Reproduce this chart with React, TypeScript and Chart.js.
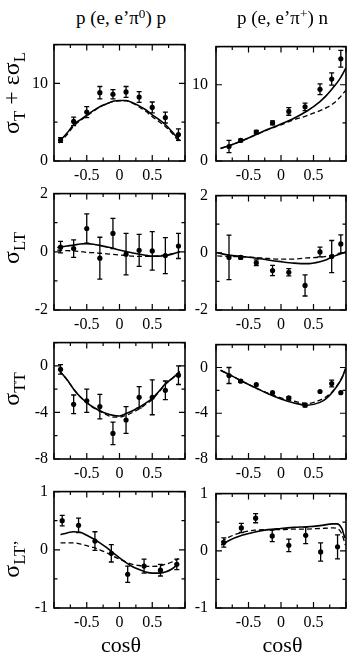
import React, { useEffect, useRef } from "react";
import { Chart, registerables } from "chart.js";
Chart.register(...registerables);

const FONT = '"Liberation Serif", "Times New Roman", serif';

// ---------- x positions (cos theta) ----------
const xPi0 = [-0.9, -0.7, -0.5, -0.3, -0.1, 0.1, 0.3, 0.5, 0.7, 0.9];
const xPi0LTp = [-0.875, -0.625, -0.375, -0.125, 0.125, 0.375, 0.625, 0.875];
const xPiP = [-0.8, -0.62, -0.38, -0.13, 0.12, 0.37, 0.6, 0.78, 0.92];
const xPiPLTp = [-0.88, -0.61, -0.39, -0.135, 0.12, 0.38, 0.61, 0.87];

// ---------- tick labels ----------
const xTickLabels = [-0.5, 0, 0.5];
const yTicksRow1 = [0, 10];
const yTicksRow2 = [-2, 0, 2];
const yTicksRow3 = [-8, -4, 0];
const yTicksRow4 = [-1, 0, 1];

// ---------- Row 1: sigma_T + eps sigma_L ----------
const r1Pi0Val = [2.7, 5.1, 6.3, 8.8, 8.6, 8.9, 8.25, 6.9, 5.6, 3.4];
const r1Pi0Err = [0.3, 0.55, 0.7, 0.8, 0.6, 0.7, 0.7, 0.7, 0.7, 0.75];
const r1Pi0CurveX = [-0.92, -0.8, -0.7, -0.6, -0.5, -0.4, -0.3, -0.2, -0.1, 0, 0.1, 0.2, 0.3, 0.4, 0.5, 0.6, 0.7, 0.8, 0.92];
const r1Pi0Solid = [2.5, 3.6, 4.7, 5.3, 5.9, 6.5, 7.0, 7.35, 7.7, 7.8, 7.8, 7.5, 7.1, 6.6, 5.95, 5.35, 4.7, 3.8, 2.6];
const r1Pi0Dashed = [2.3, 3.4, 4.5, 5.2, 5.8, 6.4, 6.95, 7.35, 7.65, 7.75, 7.75, 7.45, 6.95, 6.4, 5.7, 5.1, 4.45, 3.6, 2.35];

const r1PiPVal = [1.9, 2.7, 3.8, 5.0, 6.5, 7.1, 9.4, 10.75, 13.4];
const r1PiPErr = [0.8, 0.15, 0.2, 0.25, 0.5, 0.5, 0.7, 0.8, 1.1];
const r1PiPCurveX = [-0.93, -0.8, -0.6, -0.4, -0.2, 0, 0.2, 0.4, 0.6, 0.7, 0.8, 0.9, 1.0];
const r1PiPSolid = [1.65, 2.0, 2.65, 3.4, 4.15, 4.85, 5.6, 6.55, 7.8, 8.6, 9.6, 10.7, 12.2];
const r1PiPDashed = [1.65, 2.0, 2.65, 3.4, 4.1, 4.75, 5.4, 5.95, 6.6, 7.0, 7.5, 8.3, 9.3];

// ---------- Row 2: sigma_LT ----------
const r2Pi0Val = [0.16, 0.11, 0.8, -0.22, 0.63, -0.08, 0.05, 0.03, -0.13, 0.2];
const r2Pi0Err = [0.2, 0.3, 0.5, 0.72, 0.52, 0.71, 0.55, 0.66, 0.62, 0.43];
const r2Pi0CurveX = [-0.95, -0.8, -0.7, -0.6, -0.5, -0.4, -0.3, -0.2, -0.1, 0, 0.1, 0.2, 0.3, 0.4, 0.5, 0.6, 0.7, 0.8, 0.92];
const r2Pi0Solid = [0.15, 0.2, 0.23, 0.27, 0.28, 0.26, 0.22, 0.17, 0.12, 0.06, 0.01, -0.04, -0.08, -0.12, -0.15, -0.15, -0.13, -0.08, 0.0];
const r2Pi0Dashed = [0.06, 0.04, 0.03, 0.01, -0.02, -0.03, -0.05, -0.07, -0.09, -0.11, -0.13, -0.15, -0.16, -0.16, -0.16, -0.14, -0.11, -0.07, 0.0];

const r2PiPVal = [-0.16, -0.16, -0.35, -0.62, -0.68, -1.14, 0.03, -0.13, 0.31];
const r2PiPErr = [0.78, 0.05, 0.1, 0.18, 0.13, 0.37, 0.17, 0.56, 0.32];
const r2PiPCurveX = [-0.98, -0.8, -0.6, -0.4, -0.2, 0, 0.2, 0.4, 0.6, 0.7, 0.8, 0.9, 1.0];
const r2PiPSolid = [0.0, -0.08, -0.13, -0.18, -0.25, -0.31, -0.36, -0.38, -0.31, -0.24, -0.13, -0.05, 0.03];
const r2PiPDashed = [-0.11, -0.13, -0.14, -0.16, -0.2, -0.22, -0.22, -0.18, -0.15, -0.12, -0.08, -0.03, 0.03];

// ---------- Row 3: sigma_TT ----------
const r3Pi0Val = [-0.3, -3.3, -3.0, -3.5, -5.8, -4.65, -2.7, -2.7, -2.1, -0.8];
const r3Pi0Err = [0.4, 0.8, 1.0, 1.05, 0.96, 1.15, 0.92, 1.5, 0.8, 0.8];
const r3Pi0CurveX = [-0.92, -0.8, -0.7, -0.6, -0.5, -0.4, -0.3, -0.2, -0.1, 0, 0.1, 0.2, 0.3, 0.4, 0.5, 0.6, 0.7, 0.8, 0.92];
const r3Pi0Solid = [-0.4, -1.2, -2.0, -2.65, -3.15, -3.55, -3.85, -4.1, -4.25, -4.3, -4.1, -3.85, -3.55, -3.2, -2.8, -2.2, -1.55, -1.1, -0.5];
const r3Pi0Dashed = [-0.4, -1.2, -2.0, -2.65, -3.15, -3.6, -3.9, -4.2, -4.4, -4.4, -4.25, -4.0, -3.7, -3.3, -2.9, -2.25, -1.6, -1.1, -0.5];

const r3PiPVal = [-0.7, -1.2, -1.5, -2.2, -2.65, -3.3, -2.1, -1.4, -2.2];
const r3PiPErr = [0.7, 0.1, 0, 0, 0.1, 0.15, 0, 0.3, 0];
const r3PiPCurveX = [-0.93, -0.8, -0.6, -0.4, -0.2, 0, 0.2, 0.4, 0.6, 0.7, 0.8, 0.9, 0.95, 1.0];
const r3PiPSolid = [-0.25, -0.6, -1.2, -1.75, -2.3, -2.75, -3.1, -3.3, -3.05, -2.7, -2.1, -1.3, -0.75, 0.0];
const r3PiPDashed = [-0.25, -0.6, -1.2, -1.75, -2.25, -2.65, -2.95, -3.15, -2.85, -2.55, -2.05, -1.25, -0.75, 0.0];

// ---------- Row 4: sigma_LT' ----------
const r4Pi0Val = [0.5, 0.42, 0.15, -0.06, -0.42, -0.28, -0.35, -0.25];
const r4Pi0Err = [0.09, 0.125, 0.16, 0.15, 0.14, 0.12, 0.1, 0.09];
const r4Pi0CurveX = [-0.9, -0.8, -0.7, -0.6, -0.5, -0.4, -0.3, -0.2, -0.1, 0, 0.1, 0.2, 0.3, 0.4, 0.5, 0.6, 0.7, 0.8, 0.9];
const r4Pi0Solid = [0.26, 0.29, 0.31, 0.3, 0.25, 0.19, 0.12, 0.04, -0.05, -0.14, -0.22, -0.29, -0.34, -0.38, -0.4, -0.4, -0.38, -0.33, -0.24];
const r4Pi0Dashed = [0.12, 0.12, 0.12, 0.1, 0.07, 0.04, 0.0, -0.05, -0.11, -0.16, -0.21, -0.25, -0.27, -0.28, -0.285, -0.28, -0.25, -0.21, -0.15];

const r4PiPVal = [0.145, 0.4, 0.57, 0.26, 0.095, 0.27, -0.02, 0.07];
const r4PiPErr = [0.08, 0.08, 0.08, 0.1, 0.11, 0.145, 0.16, 0.21];
const r4PiPCurveX = [-0.92, -0.8, -0.6, -0.4, -0.2, 0, 0.2, 0.4, 0.6, 0.8, 0.86, 0.9, 0.94, 0.97, 0.99];
const r4PiPSolid = [0.1, 0.18, 0.27, 0.33, 0.37, 0.39, 0.41, 0.42, 0.44, 0.47, 0.47, 0.45, 0.38, 0.27, 0.22];
const r4PiPDashed = [0.16, 0.24, 0.32, 0.36, 0.37, 0.37, 0.38, 0.38, 0.39, 0.4, 0.39, 0.36, 0.28, 0.18, 0.1];

// ---------- layout ----------
const COL_LEFT = [54, 216];
const COL_W = [134, 133];
const ROW_TOP = [41, 190, 339, 488];
const ROW_H = 120;
const AXIS_W = 54;
const PAD_T = 12;
const PAD_R = 2;
const X_AXIS_H = 30;

const yAxes = [
  { min: 0, max: 15, step: 5, labels: yTicksRow1 },
  { min: -2, max: 2, step: 1, labels: yTicksRow2 },
  { min: -8, max: 2, step: 2, labels: yTicksRow3 },
  { min: -1, max: 1, step: 0.5, labels: yTicksRow4 },
];

const panels = [
  { row: 0, col: 0, px: xPi0, py: r1Pi0Val, pe: r1Pi0Err, cx: r1Pi0CurveX, solid: r1Pi0Solid, dashed: r1Pi0Dashed },
  { row: 0, col: 1, px: xPiP, py: r1PiPVal, pe: r1PiPErr, cx: r1PiPCurveX, solid: r1PiPSolid, dashed: r1PiPDashed },
  { row: 1, col: 0, px: xPi0, py: r2Pi0Val, pe: r2Pi0Err, cx: r2Pi0CurveX, solid: r2Pi0Solid, dashed: r2Pi0Dashed },
  { row: 1, col: 1, px: xPiP, py: r2PiPVal, pe: r2PiPErr, cx: r2PiPCurveX, solid: r2PiPSolid, dashed: r2PiPDashed },
  { row: 2, col: 0, px: xPi0, py: r3Pi0Val, pe: r3Pi0Err, cx: r3Pi0CurveX, solid: r3Pi0Solid, dashed: r3Pi0Dashed },
  { row: 2, col: 1, px: xPiP, py: r3PiPVal, pe: r3PiPErr, cx: r3PiPCurveX, solid: r3PiPSolid, dashed: r3PiPDashed },
  { row: 3, col: 0, px: xPi0LTp, py: r4Pi0Val, pe: r4Pi0Err, cx: r4Pi0CurveX, solid: r4Pi0Solid, dashed: r4Pi0Dashed },
  { row: 3, col: 1, px: xPiPLTp, py: r4PiPVal, pe: r4PiPErr, cx: r4PiPCurveX, solid: r4PiPSolid, dashed: r4PiPDashed },
];

const near = (a: number, b: number) => Math.abs(a - b) < 1e-6;

const frameTicks = {
  id: "frameTicks",
  afterDraw(chart: any, _args: any, opts: any) {
    const { ctx, chartArea: a, scales } = chart;
    const xs = scales.x, ys = scales.y;
    ctx.save();
    ctx.strokeStyle = "#000";
    ctx.lineWidth = 1.2;
    ctx.beginPath();
    xs.ticks.forEach((t: any) => {
      const px = xs.getPixelForValue(t.value);
      const len = opts.xMajor.some((m: number) => near(m, t.value)) ? 6 : 3.5;
      ctx.moveTo(px, a.bottom); ctx.lineTo(px, a.bottom - len);
      ctx.moveTo(px, a.top); ctx.lineTo(px, a.top + len);
    });
    ys.ticks.forEach((t: any) => {
      const py = ys.getPixelForValue(t.value);
      const len = opts.yMajor.some((m: number) => near(m, t.value)) ? 6 : 3.5;
      ctx.moveTo(a.left, py); ctx.lineTo(a.left + len, py);
      ctx.moveTo(a.right, py); ctx.lineTo(a.right - len, py);
    });
    ctx.stroke();
    ctx.lineWidth = 1.6;
    ctx.strokeRect(a.left, a.top, a.right - a.left, a.bottom - a.top);
    ctx.restore();
  },
};

const errorBars = {
  id: "errorBars",
  afterDatasetsDraw(chart: any) {
    const { ctx } = chart;
    const xs = chart.scales.x, ys = chart.scales.y;
    chart.data.datasets.forEach((ds: any) => {
      if (!ds.errors) return;
      ctx.save();
      ctx.strokeStyle = "#000";
      ctx.lineWidth = 1.3;
      ctx.beginPath();
      ds.data.forEach((pt: any, i: number) => {
        const e = ds.errors[i];
        if (!e) return;
        const px = xs.getPixelForValue(pt.x);
        const y1 = ys.getPixelForValue(pt.y + e);
        const y2 = ys.getPixelForValue(pt.y - e);
        ctx.moveTo(px, y1); ctx.lineTo(px, y2);
        ctx.moveTo(px - 2.5, y1); ctx.lineTo(px + 2.5, y1);
        ctx.moveTo(px - 2.5, y2); ctx.lineTo(px + 2.5, y2);
      });
      ctx.stroke();
      ctx.restore();
    });
  },
};

function Panel({ p }: { p: any }) {
  const ref = useRef<HTMLCanvasElement>(null);
  const W = COL_W[p.col] + AXIS_W + PAD_R;
  const H = ROW_H + PAD_T + X_AXIS_H;
  useEffect(() => {
    const ax = yAxes[p.row];
    const chart = new Chart(ref.current as HTMLCanvasElement, {
      type: "scatter",
      data: {
        datasets: [
          {
            type: "line",
            data: p.cx.map((x: number, i: number) => ({ x, y: p.solid[i] })),
            borderColor: "#000",
            borderWidth: 1.6,
            pointRadius: 0,
            cubicInterpolationMode: "monotone",
            fill: false,
          },
          {
            type: "line",
            data: p.cx.map((x: number, i: number) => ({ x, y: p.dashed[i] })),
            borderColor: "#000",
            borderWidth: 1.3,
            borderDash: [5, 3],
            pointRadius: 0,
            cubicInterpolationMode: "monotone",
            fill: false,
          },
          {
            type: "scatter",
            data: p.px.map((x: number, i: number) => ({ x, y: p.py[i] })),
            errors: p.pe,
            backgroundColor: "#000",
            borderColor: "#000",
            borderWidth: 0,
            pointRadius: 2.6,
          } as any,
        ],
      },
      options: {
        animation: false,
        responsive: false,
        devicePixelRatio: 1,
        layout: { padding: { top: PAD_T, right: PAD_R, left: 0, bottom: 0 } },
        plugins: {
          legend: { display: false },
          tooltip: { enabled: false },
          frameTicks: { xMajor: [-1, -0.5, 0, 0.5, 1], yMajor: ax.labels },
        } as any,
        scales: {
          x: {
            type: "linear",
            min: -1,
            max: 1,
            grid: { display: false, drawTicks: false },
            border: { display: false },
            ticks: {
              stepSize: 0.25,
              autoSkip: false,
              maxRotation: 0,
              padding: 5,
              color: "#000",
              font: { family: FONT, size: 16 },
              callback: (v: any) => {
                const m = xTickLabels.find((t) => near(t, Number(v)));
                return m === undefined ? "" : String(m);
              },
            },
            afterFit: (s: any) => { s.height = X_AXIS_H; },
          },
          y: {
            type: "linear",
            min: ax.min,
            max: ax.max,
            grid: { display: false, drawTicks: false },
            border: { display: false },
            ticks: {
              stepSize: ax.step,
              autoSkip: false,
              padding: p.col === 0 ? 6 : 8,
              color: "#000",
              font: { family: FONT, size: 16 },
              callback: (v: any) => {
                const m = ax.labels.find((t) => near(t, Number(v)));
                return m === undefined ? "" : String(m);
              },
            },
            afterFit: (s: any) => { s.width = AXIS_W; },
          },
        },
      },
      plugins: [frameTicks, errorBars],
    } as any);
    return () => chart.destroy();
  }, []);
  return (
    <canvas
      ref={ref}
      width={W}
      height={H}
      style={{
        position: "absolute",
        left: COL_LEFT[p.col] - AXIS_W,
        top: ROW_TOP[p.row] - PAD_T,
        width: W,
        height: H,
      }}
    />
  );
}

const sub = (t: string) => (
  <span style={{ fontSize: "0.7em", position: "relative", top: "0.35em" }}>{t}</span>
);
const sup = (t: string) => (
  <span style={{ fontSize: "0.7em", position: "relative", top: "-0.45em" }}>{t}</span>
);

function VTitle({ cx, cy, children }: { cx: number; cy: number; children: any }) {
  return (
    <div
      style={{
        position: "absolute",
        left: cx,
        top: cy,
        transform: "translate(-50%, -50%) rotate(-90deg)",
        whiteSpace: "nowrap",
        fontSize: 24,
        lineHeight: "24px",
      }}
    >
      {children}
    </div>
  );
}

function HTitle({ cx, top, size, children }: { cx: number; top: number; size: number; children: any }) {
  return (
    <div
      style={{
        position: "absolute",
        left: cx - 80,
        width: 160,
        top,
        textAlign: "center",
        whiteSpace: "nowrap",
        fontSize: size,
        lineHeight: size + "px",
      }}
    >
      {children}
    </div>
  );
}

export default function App() {
  return (
    <div
      style={{
        position: "absolute",
        left: 0,
        top: 0,
        width: 351,
        height: 654,
        overflow: "hidden",
        background: "#fff",
        color: "#000",
        fontFamily: FONT,
      }}
    >
      {panels.map((p, i) => (
        <Panel key={i} p={p} />
      ))}
      <HTitle cx={121} top={8} size={19}>
        p (e, e’π{sup("0")}) p
      </HTitle>
      <HTitle cx={282.5} top={8} size={19}>
        p (e, e’π{sup("+")}) n
      </HTitle>
      <VTitle cx={12} cy={92.5}>
        σ{sub("T")} + εσ{sub("L")}
      </VTitle>
      <VTitle cx={12} cy={247.5}>
        σ{sub("LT")}
      </VTitle>
      <VTitle cx={12} cy={388.5}>
        σ{sub("TT")}
      </VTitle>
      <VTitle cx={12} cy={558.5}>
        σ{sub("LT’")}
      </VTitle>
      <HTitle cx={121} top={634} size={22}>
        cosθ
      </HTitle>
      <HTitle cx={282.5} top={634} size={22}>
        cosθ
      </HTitle>
    </div>
  );
}
